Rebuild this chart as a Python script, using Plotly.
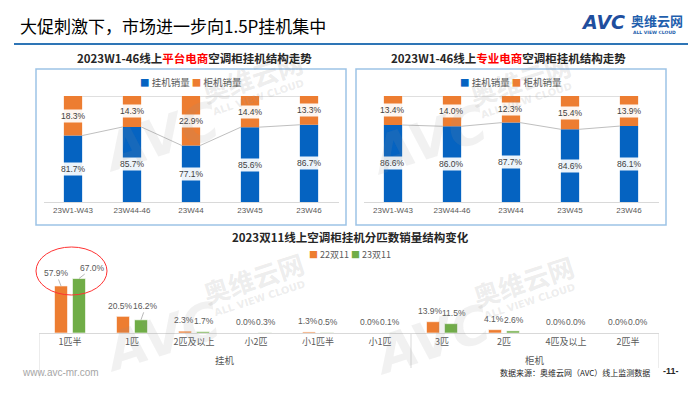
import plotly.graph_objects as go

W, H = 700, 394


def px(x):
    return x / W


def py(y):
    return 1 - y / H


# ---------------- data ----------------
top_categories = ["23W1-W43", "23W44-46", "23W44", "23W45", "23W46"]
platform_wall = [81.7, 85.7, 77.1, 85.6, 86.7]
platform_floor = [18.3, 14.3, 22.9, 14.4, 13.3]
pro_wall = [86.6, 86.0, 87.7, 84.6, 86.1]
pro_floor = [13.4, 14.0, 12.3, 15.4, 13.9]

size_groups = ["挂机"] * 6 + ["柜机"] * 4
size_labels = ["1匹半", "1匹", "2匹及以上", "小2匹", "小1匹半", "小1匹",
               "3匹", "2匹", "4匹及以上", "2匹半"]
share_22 = [57.9, 20.5, 2.3, 0.0, 1.3, 0.0, 13.9, 4.1, 0.0, 0.0]
share_23 = [67.0, 16.2, 1.7, 0.3, 0.5, 0.1, 11.5, 2.6, 0.0, 0.0]

# ---------------- style ----------------
BLUE = "#0563C1"
ORANGE = "#ED7D31"
GREEN = "#70AD47"
GRID = "#D9D9D9"
CJK = "Noto Sans CJK SC"
TOP_MIN = 51
BAR_W = 0.31

fig = go.Figure()
annotations = []
shapes = []

top_sets = [
    ("x", "y", platform_wall, platform_floor),
    ("x2", "y2", pro_wall, pro_floor),
]
xs = list(range(len(top_categories)))
for xa, ya, wall, floor in top_sets:
    lx, ly = [], []
    for i in range(len(xs) - 1):
        lx += [xs[i] + BAR_W / 2, xs[i + 1] - BAR_W / 2, None]
        ly += [wall[i], wall[i + 1], None]
        lx += [xs[i] + BAR_W / 2, xs[i + 1] - BAR_W / 2, None]
        ly += [wall[i] + floor[i], wall[i + 1] + floor[i + 1], None]
    fig.add_trace(go.Scatter(x=lx, y=ly, mode="lines", line=dict(color="#BFBFBF", width=1),
                             xaxis=xa, yaxis=ya, showlegend=False, hoverinfo="skip"))
    fig.add_trace(go.Bar(x=xs, y=wall, width=BAR_W, marker=dict(color=BLUE, line=dict(width=0)),
                         name="挂机销量", xaxis=xa, yaxis=ya, showlegend=False))
    fig.add_trace(go.Bar(x=xs, y=floor, base=wall, width=BAR_W,
                         marker=dict(color=ORANGE, line=dict(width=0)),
                         name="柜机销量", xaxis=xa, yaxis=ya, showlegend=False))
    for i in xs:
        annotations.append(dict(x=i, y=(TOP_MIN + wall[i]) / 2, xref=xa, yref=ya,
                                text=f"{wall[i]:.1f}%", showarrow=False,
                                font=dict(size=8.5, color="#404040", family="Liberation Sans"),
                                bgcolor="rgba(255,255,255,0.92)", borderpad=1))
        annotations.append(dict(x=i, y=wall[i] + floor[i] / 2, xref=xa, yref=ya,
                                text=f"{floor[i]:.1f}%", showarrow=False,
                                font=dict(size=8.5, color="#404040", family="Liberation Sans"),
                                bgcolor="rgba(255,255,255,0.92)", borderpad=1))

# bottom grouped bars
BW = 0.21
bx = list(range(len(size_labels)))
fig.add_trace(go.Bar(x=bx, y=share_22, width=BW, offset=-0.25,
                     marker=dict(color=ORANGE, line=dict(color="rgba(255,255,255,0.6)", width=1)),
                     name="22双11", xaxis="x3", yaxis="y3", showlegend=False))
fig.add_trace(go.Bar(x=bx, y=share_23, width=BW, offset=0.04,
                     marker=dict(color=GREEN, line=dict(color="rgba(255,255,255,0.6)", width=1)),
                     name="23双11", xaxis="x3", yaxis="y3", showlegend=False))

lab_font = dict(size=8.5, color="#595959", family="Liberation Sans")
for i in bx:
    xo = i - 0.25 + BW / 2
    xg = i + 0.04 + BW / 2
    if i == 0:
        annotations.append(dict(x=xo, y=share_22[i], xref="x3", yref="y3", text=f"{share_22[i]:.1f}%",
                                showarrow=True, arrowhead=0, arrowwidth=0.8, arrowcolor="#A6A6A6",
                                ax=-5, ay=-13, font=lab_font))
        annotations.append(dict(x=xg, y=share_23[i], xref="x3", yref="y3", text=f"{share_23[i]:.1f}%",
                                showarrow=True, arrowhead=0, arrowwidth=0.8, arrowcolor="#A6A6A6",
                                ax=14, ay=-11, font=lab_font))
    elif i == 1:
        annotations.append(dict(x=xo, y=share_22[i], xref="x3", yref="y3", text=f"{share_22[i]:.1f}%",
                                showarrow=False, yanchor="bottom", yshift=3, xshift=-3, font=lab_font))
        annotations.append(dict(x=xg, y=share_23[i], xref="x3", yref="y3", text=f"{share_23[i]:.1f}%",
                                showarrow=True, arrowhead=0, arrowwidth=0.8, arrowcolor="#A6A6A6",
                                ax=5, ay=-14, font=lab_font))
    else:
        spread = 3 if max(share_22[i], share_23[i]) > 10 else 1
        annotations.append(dict(x=xo, y=share_22[i], xref="x3", yref="y3", text=f"{share_22[i]:.1f}%",
                                showarrow=False, yanchor="bottom", yshift=4, xshift=-spread,
                                font=lab_font))
        annotations.append(dict(x=xg, y=share_23[i], xref="x3", yref="y3", text=f"{share_23[i]:.1f}%",
                                showarrow=False, yanchor="bottom", yshift=4, xshift=spread,
                                font=lab_font))

# group labels and dividers for the bottom axis
group_names = list(dict.fromkeys(size_groups))
bounds = [-0.5]
for g in group_names:
    idx = [i for i, s in enumerate(size_groups) if s == g]
    annotations.append(dict(x=(idx[0] + idx[-1]) / 2, y=py(360), xref="x3", yref="paper",
                            text=g, showarrow=False, yanchor="middle",
                            font=dict(size=9.5, color="#595959", family=CJK)))
    bounds.append(idx[-1] + 0.5)
for k, b in enumerate(bounds):
    shapes.append(dict(type="line", xref="x3", yref="paper", x0=b, x1=b,
                       y0=py(333), y1=py(378 if k == 0 else 368),
                       line=dict(color=GRID, width=1)))

# ---------------- axes ----------------
top_x = dict(range=[-0.5, 4.5], tickmode="array", tickvals=xs, ticktext=top_categories,
             showline=True, linecolor=GRID, linewidth=1, showgrid=False, zeroline=False,
             ticks="", tickfont=dict(size=8, color="#595959", family="Liberation Sans"),
             fixedrange=True)
top_y = dict(range=[TOP_MIN, 100], visible=False, fixedrange=True, domain=[py(202), py(96)])

fig.update_layout(
    xaxis=dict(domain=[px(43.5), px(338.5)], anchor="y", **top_x),
    yaxis=dict(anchor="x", **top_y),
    xaxis2=dict(domain=[px(363.5), px(658.5)], anchor="y2", **top_x),
    yaxis2=dict(anchor="x2", **top_y),
    xaxis3=dict(domain=[px(39), px(659)], anchor="y3", range=[-0.5, 9.5],
                tickmode="array", tickvals=bx, ticktext=size_labels,
                showline=True, linecolor=GRID, linewidth=1, showgrid=False, zeroline=False,
                ticks="", tickfont=dict(size=9, color="#595959", family=CJK), fixedrange=True),
    yaxis3=dict(domain=[py(333), py(268)], range=[0, 80], visible=False, anchor="x3",
                fixedrange=True),
)

# ---------------- decorations ----------------
for x0, x1 in [(36, 346), (356, 666)]:
    shapes.append(dict(type="rect", xref="paper", yref="paper", x0=px(x0), x1=px(x1),
                       y0=py(225), y1=py(69), line=dict(color="#9DC3E6", width=1.5),
                       fillcolor="rgba(0,0,0,0)", layer="below"))
shapes.append(dict(type="line", xref="paper", yref="paper", x0=px(14), x1=px(688),
                   y0=py(44), y1=py(44), line=dict(color="#2E75B6", width=2)))
shapes.append(dict(type="circle", xref="paper", yref="paper", x0=px(36), x1=px(107),
                   y0=py(295), y1=py(247), line=dict(color="#FF3333", width=1)))


def pa(x, y, text, size, color="#000000", family=CJK, xanchor="center", **kw):
    d = dict(x=px(x), y=py(y), xref="paper", yref="paper", text=text, showarrow=False,
             xanchor=xanchor, yanchor="middle", font=dict(size=size, color=color, family=family))
    d.update(kw)
    annotations.append(d)


# watermarks
WM = "rgba(150,150,150,0.13)"
WM2 = "rgba(150,150,150,0.18)"
for (cx, cy) in [(252, 77), (520, 80), (253, 277), (523, 280)]:
    pa(cx - 92, cy + 60, "<b><i>AVC</i></b>", 52, WM, "DejaVu Sans", textangle=-18)
    pa(cx, cy, "<b>奥维云网</b>", 26, WM2, CJK, textangle=-18)
    pa(cx + 6, cy + 21, "<b>ALL VIEW CLOUD</b>", 10, WM2, "DejaVu Sans", textangle=-18)

# titles
pa(18, 25, "大促刺激下，市场进一步向1.5P挂机集中", 17, "#000000", CJK, xanchor="left")
pa(194, 58, '<b>2023W1-46线上<span style="color:#FF0000">平台电商</span>空调柜挂机结构走势</b>',
   11.5, "#262626")
pa(509, 58, '<b>2023W1-46线上<span style="color:#FF0000">专业电商</span>空调柜挂机结构走势</b>',
   11.5, "#262626")
pa(350, 237, "<b>2023双11线上空调柜挂机分匹数销量结构变化</b>", 11.5, "#262626")

# legends
leg = (f'<span style="color:{BLUE}">■</span> 挂机销量 '
       f'<span style="color:{ORANGE}">■</span> 柜机销量')
pa(191, 82, leg, 9.5, "#595959")
pa(511, 82, leg, 9.5, "#595959")
pa(350, 254, f'<span style="color:{ORANGE}">■</span> 22双11 '
   f'<span style="color:{GREEN}">■</span> 23双11', 9, "#595959")

# logo
pa(603, 22, "<b><i>AVC</i></b>", 19, "#1F4E9E", "DejaVu Sans")
pa(657, 21, "<b>奥维云网</b>", 13, "#1F5FAD")
pa(654, 32, "<b>ALL VIEW CLOUD</b>", 4.5, "#1F5FAD", "DejaVu Sans")

# footer
pa(20, 372, "www.avc-mr.com", 10, "#A6A6A6", "Liberation Sans", xanchor="left")
pa(652, 372, "数据来源：奥维云网（AVC）线上监测数据", 8, "#262626", CJK, xanchor="right")
pa(671, 371, "<b>-11-</b>", 9, "#262626", "Liberation Sans")

fig.update_layout(
    width=W, height=H, margin=dict(l=0, r=0, t=0, b=0),
    paper_bgcolor="white", plot_bgcolor="rgba(0,0,0,0)",
    barmode="overlay", showlegend=False,
    annotations=annotations, shapes=shapes,
    font=dict(family=CJK),
)

fig.write_html("out.html", config={"displayModeBar": False},
               post_script="document.body.style.margin='0';document.body.style.overflow='hidden';")
